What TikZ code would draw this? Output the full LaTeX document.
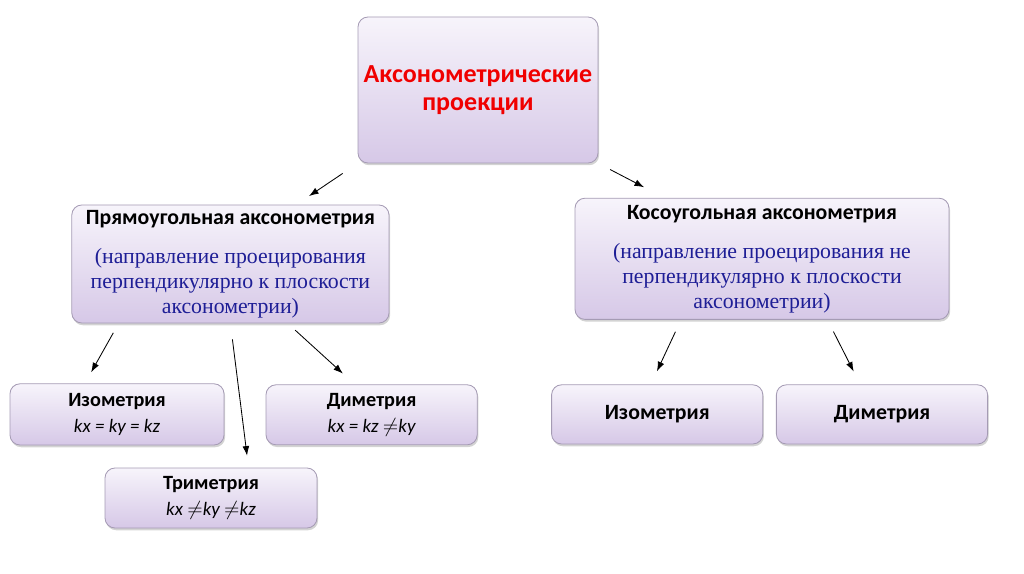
\documentclass[tikz,border=0pt]{standalone}
\usepackage{fontspec}
\setmainfont{Carlito}
\newfontfamily\serifblue{Liberation Serif}
\usetikzlibrary{arrows.meta,shadows}
\definecolor{boxtop}{RGB}{247,244,251}
\definecolor{boxbottom}{RGB}{214,200,231}
\definecolor{boxline}{RGB}{165,155,180}
\definecolor{titlered}{RGB}{240,0,0}
\definecolor{noteblue}{RGB}{30,30,150}
\newcommand\headfont{\rmfamily\fontsize{15.5}{17.8}\selectfont\bfseries\upshape\color{black}}
\newcommand\notefont{\serifblue\fontsize{15.5}{17.8}\selectfont\color{noteblue}}
\newcommand\smallhead{\fontsize{14.4}{19}\selectfont\bfseries\upshape}
\newcommand\ratiofont{\fontsize{13.5}{19}\selectfont\mdseries\itshape}
\begin{document}
\begin{tikzpicture}[
    box/.style={draw=boxline, line width=0.6pt, rounded corners=0.25cm,
      top color=boxtop, bottom color=boxbottom, align=center,
      drop shadow={opacity=0.35, shadow xshift=0.8pt, shadow yshift=-1.6pt},
      inner sep=0pt},
    notebox/.style={box, font=\notefont},
    pairbox/.style={box, font=\ratiofont},
    link/.style={-{Latex[length=2.4mm,width=1.7mm]}, line width=0.6pt, black}
  ]
  \useasboundingbox (0,0) rectangle (25.6,-14.35);

  % Top box
  \node[box, minimum width=6cm, minimum height=3.65cm,
    font=\fontsize{18.5}{19.5}\selectfont\bfseries, text=titlered]
    (axo) at (11.95,-2.25) {Аксонометрические\\проекции};

  % Second row
  \node[notebox, minimum width=7.93cm, minimum height=2.95cm] (rect) at (5.76,-6.6)
    {\headfont Прямоугольная аксонометрия\\[10pt]
     (направление проецирования\\
     перпендикулярно к плоскости\\
     аксонометрии)};
  \node[notebox, minimum width=9.35cm, minimum height=3.03cm, text depth=0.1cm] (obl) at (19.05,-6.47)
    {\headfont Косоугольная аксонометрия\\[10pt]
     (направление проецирования не\\
     перпендикулярно к плоскости\\
     аксонометрии)};

  % Bottom row
  \node[pairbox, minimum width=5.35cm, minimum height=1.53cm] (isoL) at (2.925,-10.36)
    {\smallhead Изометрия\\kx = ky = kz};
  \node[pairbox, minimum width=5.28cm, minimum height=1.5cm] (dimL) at (9.29,-10.37)
    {\smallhead Диметрия\\kx = kz $\neq$ky};
  \node[pairbox, minimum width=5.3cm, minimum height=1.5cm] (tri) at (5.275,-12.45)
    {\smallhead Триметрия\\kx $\neq$ky $\neq$kz};
  \node[box, minimum width=5.28cm, minimum height=1.48cm, font=\headfont] (isoR) at (16.43,-10.36) {Изометрия};
  \node[box, minimum width=5.28cm, minimum height=1.48cm, font=\headfont] (dimR) at (22.05,-10.36) {Диметрия};

  % Arrows
  \draw[link, shorten <=0.45cm, shorten >=0.38cm] (axo.south west) -- (rect.42.5);
  \draw[link, shorten <=0.33cm, shorten >=0.57cm] (axo.south east) -- (obl.148.6);
  \draw[link, shorten <=0.27cm, shorten >=0.32cm] (rect.208.9) -- (isoL.136.2);
  \draw[link, shorten <=0.4cm, shorten >=0.3cm] (rect.south) -- (tri.39.4);
  \draw[link, shorten <=0.25cm, shorten >=0.4cm] (rect.314.6) -- (dimL.119.5);
  \draw[link, shorten <=0.33cm, shorten >=0.36cm] (obl.217.3) -- (isoR.102.1);
  \draw[link, shorten <=0.33cm, shorten >=0.36cm] (obl.317.6) -- (dimR.126.9);
\end{tikzpicture}
\end{document}
